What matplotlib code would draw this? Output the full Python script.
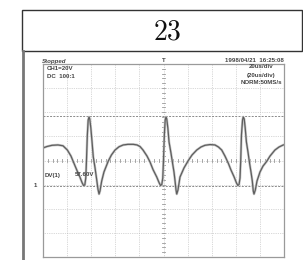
import matplotlib
matplotlib.use("Agg")
import matplotlib.pyplot as plt
from matplotlib.patches import Rectangle
from matplotlib.lines import Line2D

# Scope trace: time in us, voltage in V (20us/div, 20V/div)
time_us = [0.0, 3.3, 7.5, 12.4, 16.6, 20.2, 23.2, 25.7, 28.2, 30.5, 32.4, 33.6,
           34.7, 35.5, 36.1, 36.8, 37.5, 38.2, 38.8, 39.7, 40.7, 41.7, 43.2, 44.6,
           45.6, 46.5, 47.3, 48.7, 50.6, 54.2, 56.8, 59.8, 63.1, 66.6, 70.5, 74.9,
           78.0, 80.5, 83.0, 86.3, 88.8, 91.3, 94.4, 96.3, 97.5, 98.6, 99.4, 100.0,
           100.7, 101.4, 102.1, 102.7, 103.6, 104.6, 106.2, 107.5, 108.7, 109.5,
           110.4, 111.0, 112.0, 113.7, 117.0, 120.6, 123.7, 127.6, 131.1, 134.4,
           138.6, 142.7, 145.6, 148.3, 151.0, 153.8, 156.0, 158.5, 160.6, 161.7,
           162.7, 163.5, 164.1, 164.7, 165.6, 166.2, 167.0, 167.8, 168.8, 170.1,
           171.4, 172.6, 173.7, 174.5, 175.1, 176.2, 177.6, 180.1, 182.6, 185.6,
           188.4, 192.5, 195.9, 199.4, 200.0]
volts = [10.4, 11.6, 12.6, 12.9, 12.2, 8.7, 3.7, -2.3, -8.3, -13.4, -18.3, -20.7,
         -20.3, -14.5, 0.4, 21.2, 33.6, 36.1, 34.4, 27.0, 15.4, 3.2, -6.2, -16.2,
         -23.7, -27.8, -25.3, -17.0, -9.5, -0.4, 4.6, 8.7, 11.4, 12.9, 13.4, 13.4,
         12.9, 11.6, 8.7, 3.7, -1.2, -7.5, -13.7, -18.3, -20.7, -19.9, -14.5, 0.4,
         21.2, 33.6, 36.1, 34.4, 27.0, 15.4, 6.2, -2.1, -9.5, -16.2,
         -24.5, -27.8, -24.5, -13.7, -6.2, 0.0, 4.6, 8.7, 11.2, 12.6,
         13.2, 12.9, 11.2, 8.7, 3.7, -2.3, -7.9, -13.4, -18.7, -20.7,
         -19.9, -14.5, 0.4, 21.2, 33.6, 36.1, 34.4, 27.0, 15.4, 7.1,
         -2.1, -9.5, -17.0, -25.3, -27.8, -24.5, -17.0, -9.5, -4.6, -0.8,
         3.7, 8.7, 11.2, 12.9, 13.0]

cursor_levels = [36.8, -20.8]
header_label = "23"
left_labels = ["CH1=20V", "DC  100:1"]
right_labels = ["20us/div", "(20us/div)", "NORM:50MS/s"]
date_label = "1998/04/21  16:25:08"
cursor_label = "DV(1)"
cursor_value = "57.60V"

W, H = 303, 260
fig = plt.figure(figsize=(W / 100, H / 100), dpi=100)
fig.patch.set_facecolor("white")


def fx(px):
    return px / W


def fy(py):
    return 1 - py / H


# header box and page border
fig.patches.append(Rectangle((fx(22), fy(51)), fx(302) - fx(22), fy(10) - fy(51),
                             transform=fig.transFigure, fill=False,
                             edgecolor="#333333", linewidth=1.0))
fig.lines.append(Line2D([fx(22.5), fx(22.5)], [fy(51), 0], transform=fig.transFigure,
                        color="#777777", linewidth=2.0))
plt.rcParams["mathtext.fontset"] = "cm"
fig.text(fx(167), fy(31), r"$\mathrm{%s}$" % header_label, ha="center", va="center",
         fontsize=20, color="#111111")

# scope screen
ax = fig.add_axes([fx(43), fy(257), fx(284) - fx(43), fy(64) - fy(257)])
ax.set_xlim(0, 200)
ax.set_ylim(-80, 80)
ax.set_xticks([])
ax.set_yticks([])
for s in ax.spines.values():
    s.set_color("#9a9a9a")
    s.set_linewidth(0.9)

grid_kw = dict(color="#b4b4b4", linewidth=0.5, linestyle=(0, (1, 1.6)))
for gx in range(20, 200, 20):
    ax.axvline(gx, **grid_kw)
for gy in range(-60, 80, 20):
    ax.axhline(gy, **grid_kw)

# minor ticks on the centre lines
for tx in range(4, 200, 4):
    ax.plot([tx, tx], [-1.3, 1.3], color="#999999", linewidth=0.6)
for ty in range(-76, 80, 4):
    ax.plot([98.8, 101.2], [ty, ty], color="#999999", linewidth=0.6)

for lvl in cursor_levels:
    ax.axhline(lvl, color="#8a8a8a", linewidth=0.7, linestyle=(0, (2, 1.4)))

ax.plot(time_us, volts, color="#c8c8c8", linewidth=1.8, solid_joinstyle="round")
ax.plot(time_us, volts, color="#5e5e5e", linewidth=0.9, solid_joinstyle="round")

txt = dict(fontsize=4.4, color="#444444", family="Liberation Sans", fontweight="bold")
fig.text(fx(42), fy(61), "Stopped", ha="left", va="center", style="italic", **txt)
fig.text(fx(73), fy(68), left_labels[0], ha="right", va="center", **txt)
fig.text(fx(75), fy(76), left_labels[1], ha="right", va="center", **txt)
fig.text(fx(284), fy(61), date_label, ha="right", va="center", **txt)
for i, lab in enumerate(right_labels):
    fig.text(fx(261), fy(67 + 8 * i), lab, ha="center", va="center", **txt)
fig.text(fx(45), fy(175), cursor_label, ha="left", va="center", **txt)
fig.text(fx(75), fy(175), cursor_value, ha="left", va="center", **txt)
fig.text(fx(35), fy(185.5), "1", ha="center", va="center", **txt)
fig.text(fx(163.5), fy(60), "T", ha="center", va="center", **txt)

fig.savefig("out.png", dpi=100)
